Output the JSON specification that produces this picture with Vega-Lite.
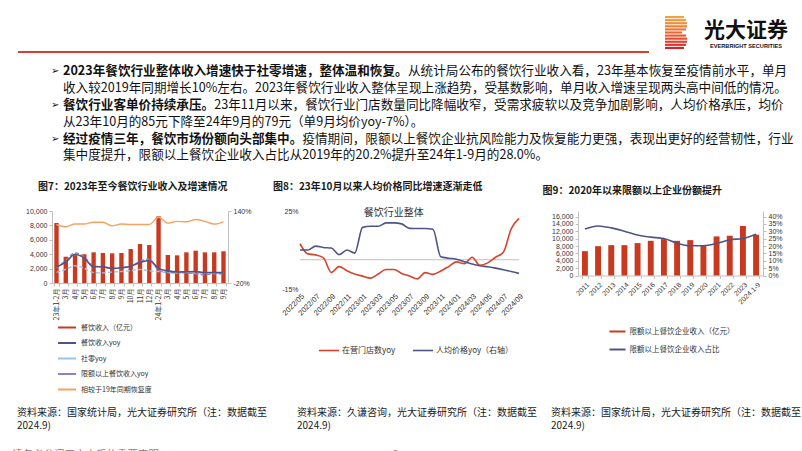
{
  "$schema": "https://vega.github.io/schema/vega-lite/v6.json",
  "background": "white",
  "padding": 0,
  "spacing": 0,
  "resolve": {"scale": {"color": "independent"}, "legend": {"color": "independent"}},
  "config": {
    "view": {"stroke": null},
    "font": "Noto Sans CJK SC",
    "axis": {"grid": false, "labelFont": "Liberation Sans", "labelFontSize": 7, "labelColor": "#333333", "domainColor": "#c0c0c0", "tickColor": "#c0c0c0", "tickSize": 3, "labelPadding": 2},
    "title": {"font": "Noto Sans CJK SC", "fontSize": 10, "fontWeight": "bold", "color": "#1a1a1a", "anchor": "start", "frame": "group"},
    "legend": {"labelFont": "Noto Sans CJK SC", "labelColor": "#333333"}
  },
  "datasets": {
    "c7": [
      {"m": "23年1-2月", "餐饮收入（亿元）": 8330, "餐饮收入yoy": 15.4, "社零yoy": 3.5, "限额以上餐饮收入yoy": 14, "相较于19年同期恢复度": 110},
      {"m": "3月", "餐饮收入（亿元）": 3650, "餐饮收入yoy": 26.3, "社零yoy": 10.6, "限额以上餐饮收入yoy": 30, "相较于19年同期恢复度": 105},
      {"m": "4月", "餐饮收入（亿元）": 3870, "餐饮收入yoy": 43.8, "社零yoy": 18.4, "限额以上餐饮收入yoy": 47, "相较于19年同期恢复度": 111},
      {"m": "5月", "餐饮收入（亿元）": 4000, "餐饮收入yoy": 35.1, "社零yoy": 12.7, "限额以上餐饮收入yoy": 38, "相较于19年同期恢复度": 111},
      {"m": "6月", "餐饮收入（亿元）": 4260, "餐饮收入yoy": 16.1, "社零yoy": 3.1, "限额以上餐饮收入yoy": 17, "相较于19年同期恢复度": 115},
      {"m": "7月", "餐饮收入（亿元）": 4170, "餐饮收入yoy": 15.8, "社零yoy": 2.5, "限额以上餐饮收入yoy": 16, "相较于19年同期恢复度": 115},
      {"m": "8月", "餐饮收入（亿元）": 4120, "餐饮收入yoy": 12.4, "社零yoy": 4.6, "限额以上餐饮收入yoy": 12, "相较于19年同期恢复度": 107},
      {"m": "9月", "餐饮收入（亿元）": 4170, "餐饮收入yoy": 13.8, "社零yoy": 5.5, "限额以上餐饮收入yoy": 14, "相较于19年同期恢复度": 111},
      {"m": "10月", "餐饮收入（亿元）": 4720, "餐饮收入yoy": 17.1, "社零yoy": 7.6, "限额以上餐饮收入yoy": 17, "相较于19年同期恢复度": 110},
      {"m": "11月", "餐饮收入（亿元）": 5420, "餐饮收入yoy": 25.8, "社零yoy": 10.1, "限额以上餐饮收入yoy": 28, "相较于19年同期恢复度": 110},
      {"m": "12月", "餐饮收入（亿元）": 5280, "餐饮收入yoy": 30.0, "社零yoy": 7.4, "限额以上餐饮收入yoy": 33, "相较于19年同期恢复度": 110},
      {"m": "24年1-2月", "餐饮收入（亿元）": 9260, "餐饮收入yoy": 12.5, "社零yoy": 5.5, "限额以上餐饮收入yoy": 9, "相较于19年同期恢复度": 126},
      {"m": "\u200b3月", "餐饮收入（亿元）": 3890, "餐饮收入yoy": 6.9, "社零yoy": 3.1, "限额以上餐饮收入yoy": 4, "相较于19年同期恢复度": 113},
      {"m": "\u200b4月", "餐饮收入（亿元）": 3840, "餐饮收入yoy": 4.4, "社零yoy": 2.3, "限额以上餐饮收入yoy": 2.5, "相较于19年同期恢复度": 117},
      {"m": "\u200b5月", "餐饮收入（亿元）": 4260, "餐饮收入yoy": 5.0, "社零yoy": 3.7, "限额以上餐饮收入yoy": 2.5, "相较于19年同期恢复度": 116},
      {"m": "\u200b6月", "餐饮收入（亿元）": 4490, "餐饮收入yoy": 5.4, "社零yoy": 2.0, "限额以上餐饮收入yoy": 0.5, "相较于19年同期恢复度": 121},
      {"m": "\u200b7月", "餐饮收入（亿元）": 4260, "餐饮收入yoy": 3.0, "社零yoy": 2.7, "限额以上餐饮收入yoy": -2, "相较于19年同期恢复度": 117},
      {"m": "\u200b8月", "餐饮收入（亿元）": 4260, "餐饮收入yoy": 3.3, "社零yoy": 2.1, "限额以上餐饮收入yoy": 0.5, "相较于19年同期恢复度": 111},
      {"m": "\u200b9月", "餐饮收入（亿元）": 4400, "餐饮收入yoy": 3.1, "社零yoy": 3.2, "限额以上餐饮收入yoy": -0.5, "相较于19年同期恢复度": 116}
    ],
    "c8": [
      {"m": "2022/05", "在营门店数yoy": 8.2, "人均价格yoy（右轴）": 5},
      {"m": "2022/06", "在营门店数yoy": 3, "人均价格yoy（右轴）": 5},
      {"m": "2022/07", "在营门店数yoy": 2.5, "人均价格yoy（右轴）": 7},
      {"m": "2022/08", "在营门店数yoy": 1, "人均价格yoy（右轴）": 6.3},
      {"m": "2022/09", "在营门店数yoy": -6.5, "人均价格yoy（右轴）": 6},
      {"m": "2022/10", "在营门店数yoy": -3.5, "人均价格yoy（右轴）": 2.6},
      {"m": "2022/11", "在营门店数yoy": -5.6, "人均价格yoy（右轴）": 5},
      {"m": "2022/12", "在营门店数yoy": -7.3, "人均价格yoy（右轴）": 3.4},
      {"m": "2023/01", "在营门店数yoy": -8.4, "人均价格yoy（右轴）": 16.6},
      {"m": "2023/02", "在营门店数yoy": -9.4, "人均价格yoy（右轴）": 17.2},
      {"m": "2023/03", "在营门店数yoy": -7.3, "人均价格yoy（右轴）": 17.2},
      {"m": "2023/04", "在营门店数yoy": -5, "人均价格yoy（右轴）": 18.9},
      {"m": "2023/05", "在营门店数yoy": -5, "人均价格yoy（右轴）": 18.9},
      {"m": "2023/06", "在营门店数yoy": -7, "人均价格yoy（右轴）": 18.4},
      {"m": "2023/07", "在营门店数yoy": -8.3, "人均价格yoy（右轴）": 16.1},
      {"m": "2023/08", "在营门店数yoy": -9.8, "人均价格yoy（右轴）": 16},
      {"m": "2023/09", "在营门店数yoy": -6.6, "人均价格yoy（右轴）": 16},
      {"m": "2023/10", "在营门店数yoy": -7.5, "人均价格yoy（右轴）": 15.6},
      {"m": "2023/11", "在营门店数yoy": -5.8, "人均价格yoy（右轴）": 1.5},
      {"m": "2023/12", "在营门店数yoy": -3.5, "人均价格yoy（右轴）": 0.8},
      {"m": "2024/01", "在营门店数yoy": -1.1, "人均价格yoy（右轴）": 0.3},
      {"m": "2024/02", "在营门店数yoy": -2, "人均价格yoy（右轴）": -1},
      {"m": "2024/03", "在营门店数yoy": 1.3, "人均价格yoy（右轴）": -2.2},
      {"m": "2024/04", "在营门店数yoy": -2.8, "人均价格yoy（右轴）": -3.1},
      {"m": "2024/05", "在营门店数yoy": -1.6, "人均价格yoy（右轴）": -3.6},
      {"m": "2024/06", "在营门店数yoy": 1.3, "人均价格yoy（右轴）": -4.3},
      {"m": "2024/07", "在营门店数yoy": 3.8, "人均价格yoy（右轴）": -5.1},
      {"m": "2024/08", "在营门店数yoy": 15.8, "人均价格yoy（右轴）": -6},
      {"m": "2024/09", "在营门店数yoy": 21.2, "人均价格yoy（右轴）": -7}
    ],
    "c9": [
      {"yr": "2011", "限额以上餐饮企业收入（亿元）": 6600, "限额以上餐饮企业收入占比": 31.5},
      {"yr": "2012", "限额以上餐饮企业收入（亿元）": 7950, "限额以上餐饮企业收入占比": 33.6},
      {"yr": "2013", "限额以上餐饮企业收入（亿元）": 8230, "限额以上餐饮企业收入占比": 32.3},
      {"yr": "2014", "限额以上餐饮企业收入（亿元）": 8230, "限额以上餐饮企业收入占比": 30},
      {"yr": "2015", "限额以上餐饮企业收入（亿元）": 8780, "限额以上餐饮企业收入占比": 27.4},
      {"yr": "2016", "限额以上餐饮企业收入（亿元）": 9410, "限额以上餐饮企业收入占比": 26},
      {"yr": "2017", "限额以上餐饮企业收入（亿元）": 9870, "限额以上餐饮企业收入占比": 25.1},
      {"yr": "2018", "限额以上餐饮企业收入（亿元）": 9400, "限额以上餐饮企业收入占比": 21.9},
      {"yr": "2019", "限额以上餐饮企业收入（亿元）": 9600, "限额以上餐饮企业收入占比": 20.2},
      {"yr": "2020", "限额以上餐饮企业收入（亿元）": 8230, "限额以上餐饮企业收入占比": 20.2},
      {"yr": "2021", "限额以上餐饮企业收入（亿元）": 10600, "限额以上餐饮企业收入占比": 21.7},
      {"yr": "2022", "限额以上餐饮企业收入（亿元）": 10790, "限额以上餐饮企业收入占比": 24.2},
      {"yr": "2023", "限额以上餐饮企业收入（亿元）": 13440, "限额以上餐饮企业收入占比": 25.1},
      {"yr": "2024.1-9", "限额以上餐饮企业收入（亿元）": 11060, "限额以上餐饮企业收入占比": 28.0}
    ]
  },
  "vconcat": [
    {
      "spacing": 0,
      "resolve": {"scale": {"color": "independent"}, "legend": {"color": "independent"}},
      "hconcat": [
        {"width": 17, "height": 1, "data": {"values": []}, "mark": "point"},
        {"width": 631, "height": 52, "data": {"values": [{}]}, "mark": {"type": "rule", "color": "#D8412F", "strokeWidth": 2}, "encoding": {"y": {"datum": 0, "type": "quantitative", "scale": {"domain": [0, 1]}, "axis": null}}},
        {"width": 15, "height": 1, "data": {"values": []}, "mark": "point"},
        {
          "spacing": 0,
          "vconcat": [
            {"width": 1, "height": 16, "data": {"values": []}, "mark": "point"},
            {
              "spacing": 0,
              "hconcat": [
                {
                  "width": 22, "height": 33,
                  "data": {"values": [{"i": 1, "len": 19}, {"i": 2, "len": 21}, {"i": 3, "len": 22}, {"i": 4, "len": 22}, {"i": 5, "len": 21}, {"i": 6, "len": 17}, {"i": 7, "len": 21}, {"i": 8, "len": 22}, {"i": 9, "len": 22}, {"i": 10, "len": 21}, {"i": 11, "len": 19}]},
                  "mark": {"type": "bar"},
                  "encoding": {
                    "y": {"field": "i", "type": "ordinal", "axis": null, "scale": {"paddingInner": 0.3, "paddingOuter": 0}},
                    "x": {"field": "len", "type": "quantitative", "axis": null, "scale": {"domain": [0, 22]}},
                    "color": {"field": "i", "type": "ordinal", "legend": null, "scale": {"range": ["#F6A23C", "#F4963A", "#F28A38", "#EF7E36", "#ED7234", "#EA6633", "#E75A31", "#E44E2F", "#E1422E", "#DB362C", "#D5232B"]}}
                  }
                },
                {"width": 9, "height": 1, "data": {"values": []}, "mark": "point"},
                {
                  "width": 100, "height": 34,
                  "data": {"values": [{}]},
                  "layer": [
                    {"mark": {"type": "text", "text": "光大证券", "font": "Noto Sans CJK SC", "fontWeight": "bold", "fontSize": 21, "color": "#111111", "baseline": "middle", "dy": -2.5}, "encoding": {}},
                    {"mark": {"type": "text", "text": "EVERBRIGHT SECURITIES", "font": "Liberation Sans", "fontWeight": "bold", "fontSize": 5.6, "color": "#111111", "baseline": "middle", "dy": 13}, "encoding": {}}
                  ]
                }
              ]
            }
          ]
        }
      ]
    },
    {"width": 1, "height": 9.6, "data": {"values": []}, "mark": "point"},
    {
      "spacing": 0,
      "hconcat": [
        {"width": 51, "height": 1, "data": {"values": []}, "mark": "point"},
        {
          "width": 12, "height": 100.8,
          "data": {"values": [{"line": 1, "t": "➢"}, {"line": 3, "t": "➢"}, {"line": 5, "t": "➢"}]},
          "mark": {"type": "text", "font": "DejaVu Sans", "fontSize": 10, "align": "left", "baseline": "middle", "color": "#111111"},
          "encoding": {
            "x": {"datum": 0, "type": "quantitative", "scale": {"domain": [0, 1]}, "axis": null},
            "y": {"field": "line", "type": "ordinal", "scale": {"type": "point", "domain": [1, 2, 3, 4, 5, 6], "padding": 0.5}, "axis": null},
            "text": {"field": "t"}
          }
        },
        {
          "width": 722, "height": 100.8,
          "data": {"values": [
            {"line": 1, "bold": "2023年餐饮行业整体收入增速快于社零增速，整体温和恢复。", "rest": "从统计局公布的餐饮行业收入看，23年基本恢复至疫情前水平，单月"},
            {"line": 2, "bold": "", "rest": "收入较2019年同期增长10%左右。2023年餐饮行业收入整体呈现上涨趋势，受基数影响，单月收入增速呈现两头高中间低的情况。"},
            {"line": 3, "bold": "餐饮行业客单价持续承压。", "rest": "23年11月以来，餐饮行业门店数量同比降幅收窄，受需求疲软以及竞争加剧影响，人均价格承压，均价"},
            {"line": 4, "bold": "", "rest": "从23年10月的85元下降至24年9月的79元（单9月均价yoy-7%）。"},
            {"line": 5, "bold": "经过疫情三年，餐饮市场份额向头部集中。", "rest": "疫情期间，限额以上餐饮企业抗风险能力及恢复能力更强，表现出更好的经营韧性，行业"},
            {"line": 6, "bold": "", "rest": "集中度提升，限额以上餐饮企业收入占比从2019年的20.2%提升至24年1-9月的28.0%。"}
          ]},
          "encoding": {
            "x": {"datum": 0, "type": "quantitative", "scale": {"domain": [0, 1]}, "axis": null},
            "y": {"field": "line", "type": "ordinal", "scale": {"type": "point", "domain": [1, 2, 3, 4, 5, 6], "padding": 0.5}, "axis": null}
          },
          "layer": [
            {"mark": {"type": "text", "align": "left", "baseline": "middle", "font": "Noto Sans CJK SC", "fontSize": 12.6, "fontWeight": "bold", "color": "#111111"}, "encoding": {"text": {"field": "bold"}}},
            {"transform": [{"filter": "datum.line % 2 == 0"}], "mark": {"type": "text", "align": "left", "baseline": "middle", "font": "Noto Sans CJK SC", "fontSize": 12.6, "color": "#111111"}, "encoding": {"text": {"field": "rest"}}},
            {"transform": [{"filter": "datum.line == 1"}], "mark": {"type": "text", "align": "left", "baseline": "middle", "font": "Noto Sans CJK SC", "fontSize": 12.6, "color": "#111111", "dx": 345}, "encoding": {"text": {"field": "rest"}}},
            {"transform": [{"filter": "datum.line == 3"}], "mark": {"type": "text", "align": "left", "baseline": "middle", "font": "Noto Sans CJK SC", "fontSize": 12.6, "color": "#111111", "dx": 151.2}, "encoding": {"text": {"field": "rest"}}},
            {"transform": [{"filter": "datum.line == 5"}], "mark": {"type": "text", "align": "left", "baseline": "middle", "font": "Noto Sans CJK SC", "fontSize": 12.6, "color": "#111111", "dx": 239.4}, "encoding": {"text": {"field": "rest"}}}
          ]
        }
      ]
    },
    {"width": 1, "height": 17.85, "data": {"values": []}, "mark": "point"},
    {
      "spacing": 0,
      "align": "none",
      "resolve": {"scale": {"color": "independent"}, "legend": {"color": "independent"}},
      "hconcat": [
        {"width": 24.6, "height": 1, "data": {"values": []}, "mark": "point"},
        {
          "width": 176, "height": 72,
          "title": {"text": "图7：2023年至今餐饮行业收入及增速情况", "dx": -14, "offset": 15},
          "data": {"name": "c7"},
          "encoding": {
            "x": {"field": "m", "type": "ordinal", "sort": null, "scale": {"paddingInner": 0.53, "paddingOuter": 0.25},
              "axis": {"title": null, "labelAngle": -90, "labelFont": "Noto Sans CJK SC", "labelFontSize": 7, "labelPadding": 2, "tickBand": "extent"}},
            "color": {"field": "s", "type": "nominal",
              "scale": {"domain": ["餐饮收入（亿元）", "餐饮收入yoy", "社零yoy", "限额以上餐饮收入yoy", "相较于19年同期恢复度"], "range": ["#C8391F", "#4E5585", "#9DC3E6", "#8E82C4", "#F4A261"]},
              "legend": {"title": null, "orient": "none", "legendX": 5, "legendY": 106.5, "symbolType": "stroke", "symbolSize": 324, "symbolStrokeWidth": 2, "labelFontSize": 7, "labelOffset": 4, "rowPadding": 1.5, "labelLimit": 200}}
          },
          "layer": [
            {"transform": [{"fold": ["餐饮收入（亿元）"], "as": ["s", "v"]}],
             "mark": {"type": "bar"},
             "encoding": {"y": {"field": "v", "type": "quantitative", "scale": {"domain": [0, 10000], "nice": false}, "axis": {"title": null, "values": [0, 2000, 4000, 6000, 8000, 10000], "format": ",.0f"}}}},
            {
              "layer": [
                {"transform": [{"fold": ["相较于19年同期恢复度"], "as": ["s", "v"]}],
                 "mark": {"type": "line", "interpolate": "monotone", "strokeWidth": 1.4},
                 "encoding": {"y": {"field": "v", "type": "quantitative", "scale": {"domain": [-20, 140], "nice": false}, "axis": {"title": null, "orient": "right", "values": [-20, 0, 20, 40, 60, 80, 100, 120, 140], "labelExpr": "datum.value + '%'"}}}},
                {"transform": [{"fold": ["社零yoy", "限额以上餐饮收入yoy"], "as": ["s", "v"]}],
                 "mark": {"type": "line", "interpolate": "monotone", "strokeWidth": 1.4, "strokeDash": [4, 2]},
                 "encoding": {"y": {"field": "v", "type": "quantitative"}}},
                {"transform": [{"fold": ["餐饮收入yoy"], "as": ["s", "v"]}],
                 "mark": {"type": "line", "interpolate": "monotone", "strokeWidth": 1.6},
                 "encoding": {"y": {"field": "v", "type": "quantitative"}}}
              ]
            }
          ],
          "resolve": {"scale": {"y": "independent"}}
        },
        {"width": 21.1, "height": 1, "data": {"values": []}, "mark": "point"},
        {
          "width": 219, "height": 78,
          "title": {"text": "图8：23年10月以来人均价格同比增速逐渐走低", "dx": -27, "offset": 15},
          "data": {"name": "c8"},
          "layer": [
            {"data": {"values": [{"z": 0}]},
             "mark": {"type": "rule", "color": "#c0c0c0", "strokeWidth": 1},
             "encoding": {"y": {"field": "z", "type": "quantitative"}}},
            {"transform": [{"fold": ["在营门店数yoy", "人均价格yoy（右轴）"], "as": ["s", "v"]}],
             "mark": {"type": "line", "interpolate": "monotone", "strokeWidth": 1.6},
             "encoding": {
               "x": {"field": "m", "type": "ordinal", "sort": null,
                 "scale": {"type": "point", "padding": 0},
                 "axis": {"title": null, "values": ["2022/05", "2022/07", "2022/09", "2022/11", "2023/01", "2023/03", "2023/05", "2023/07", "2023/09", "2023/11", "2024/01", "2024/03", "2024/05", "2024/07", "2024/09"], "labelAngle": -45, "domain": false, "ticks": false, "labelFontSize": 7.5, "labelPadding": 3}},
               "y": {"field": "v", "type": "quantitative", "scale": {"domain": [-15, 25], "nice": false}, "axis": {"title": null, "values": [-15, -10, -5, 0, 5, 10, 15, 20, 25], "labelExpr": "datum.value + '%'", "domain": false, "ticks": false}},
               "color": {"field": "s", "type": "nominal",
                 "scale": {"domain": ["在营门店数yoy", "人均价格yoy（右轴）"], "range": ["#D6452B", "#4E5585"]},
                 "legend": {"title": null, "orient": "none", "legendX": 18, "legendY": 128.5, "direction": "horizontal", "symbolType": "stroke", "symbolSize": 400, "symbolStrokeWidth": 1.6, "labelFontSize": 8, "labelOffset": 2, "columnPadding": 13, "labelLimit": 200}}
             }},
            {"data": {"values": [{"m": "2023/05", "t": "餐饮行业整体"}]},
             "mark": {"type": "text", "font": "Noto Sans CJK SC", "fontSize": 10, "color": "#333333"},
             "encoding": {"x": {"field": "m", "type": "ordinal", "sort": null}, "y": {"datum": 24, "type": "quantitative"}, "text": {"field": "t"}}}
          ]
        },
        {"width": 17, "height": 1, "data": {"values": []}, "mark": "point"},
        {
          "width": 185, "height": 64.5,
          "title": {"text": "图9：2020年以来限额以上企业份额提升", "dx": -35.5, "offset": 15},
          "data": {"name": "c9"},
          "encoding": {
            "x": {"field": "yr", "type": "ordinal", "sort": null, "scale": {"paddingInner": 0.55, "paddingOuter": 0.3},
              "axis": {"title": null, "labelAngle": -45, "tickBand": "extent", "labelFontSize": 7, "labelPadding": 2}},
            "color": {"field": "s", "type": "nominal",
              "scale": {"domain": ["限额以上餐饮企业收入（亿元）", "限额以上餐饮企业收入占比"], "range": ["#C8391F", "#4E5585"]},
              "legend": {"title": null, "orient": "none", "legendX": 30.5, "legendY": 111.5, "symbolType": "stroke", "symbolSize": 256, "symbolStrokeWidth": 2, "labelFontSize": 7.5, "labelOffset": 3, "rowPadding": 5, "labelLimit": 200}}
          },
          "layer": [
            {"transform": [{"fold": ["限额以上餐饮企业收入（亿元）"], "as": ["s", "v"]}],
             "mark": {"type": "bar"},
             "encoding": {"y": {"field": "v", "type": "quantitative", "scale": {"domain": [0, 17492], "nice": false}, "axis": {"title": null, "values": [0, 2000, 4000, 6000, 8000, 10000, 12000, 14000, 16000], "format": ",.0f"}}}},
            {"transform": [{"fold": ["限额以上餐饮企业收入占比"], "as": ["s", "v"]}],
             "mark": {"type": "line", "interpolate": "monotone", "strokeWidth": 1.6},
             "encoding": {"y": {"field": "v", "type": "quantitative", "scale": {"domain": [0, 43.73], "nice": false}, "axis": {"title": null, "orient": "right", "values": [0, 5, 10, 15, 20, 25, 30, 35, 40], "labelExpr": "datum.value + '%'"}}}}
          ],
          "resolve": {"scale": {"y": "independent"}}
        }
      ]
    },
    {"width": 1, "height": 11.5, "data": {"values": []}, "mark": "point"},
    {
      "spacing": 0,
      "hconcat": [
        {"width": 17, "height": 1, "data": {"values": []}, "mark": "point"},
        {"width": 280, "height": 26,
         "data": {"values": [{"i": 1, "t": "资料来源：国家统计局，光大证券研究所（注：数据截至"}, {"i": 2, "t": "2024.9)"}]},
         "mark": {"type": "text", "align": "left", "baseline": "middle", "font": "Noto Sans CJK SC", "fontSize": 10, "color": "#1a1a1a"},
         "encoding": {"x": {"datum": 0, "type": "quantitative", "scale": {"domain": [0, 1]}, "axis": null}, "y": {"field": "i", "type": "ordinal", "scale": {"type": "point", "padding": 0.5}, "axis": null}, "text": {"field": "t"}}},
        {"width": 254, "height": 26,
         "data": {"values": [{"i": 1, "t": "资料来源：久谦咨询，光大证券研究所（注：数据截至"}, {"i": 2, "t": "2024.9)"}]},
         "mark": {"type": "text", "align": "left", "baseline": "middle", "font": "Noto Sans CJK SC", "fontSize": 10, "color": "#1a1a1a"},
         "encoding": {"x": {"datum": 0, "type": "quantitative", "scale": {"domain": [0, 1]}, "axis": null}, "y": {"field": "i", "type": "ordinal", "scale": {"type": "point", "padding": 0.5}, "axis": null}, "text": {"field": "t"}}},
        {"width": 230, "height": 26,
         "data": {"values": [{"i": 1, "t": "资料来源：国家统计局，光大证券研究所（注：数据截至"}, {"i": 2, "t": "2024.9)"}]},
         "mark": {"type": "text", "align": "left", "baseline": "middle", "font": "Noto Sans CJK SC", "fontSize": 10, "color": "#1a1a1a"},
         "encoding": {"x": {"datum": 0, "type": "quantitative", "scale": {"domain": [0, 1]}, "axis": null}, "y": {"field": "i", "type": "ordinal", "scale": {"type": "point", "padding": 0.5}, "axis": null}, "text": {"field": "t"}}}
      ]
    },
    {"width": 1, "height": 12.5, "data": {"values": []}, "mark": "point"},
    {
      "spacing": 0,
      "hconcat": [
        {"width": 12, "height": 1, "data": {"values": []}, "mark": "point"},
        {"width": 378, "height": 20, "data": {"values": [{}]},
         "mark": {"type": "text", "text": "请务必参阅正文之后的重要声明", "align": "left", "baseline": "middle", "font": "Noto Sans CJK SC", "fontSize": 10.5, "color": "#808080"},
         "encoding": {"x": {"datum": 0, "type": "quantitative", "scale": {"domain": [0, 1]}, "axis": null}}},
        {"width": 10, "height": 20, "data": {"values": [{}]},
         "mark": {"type": "text", "text": "6", "baseline": "middle", "font": "Noto Sans CJK SC", "fontSize": 10.5, "color": "#808080"},
         "encoding": {}}
      ]
    }
  ]
}
